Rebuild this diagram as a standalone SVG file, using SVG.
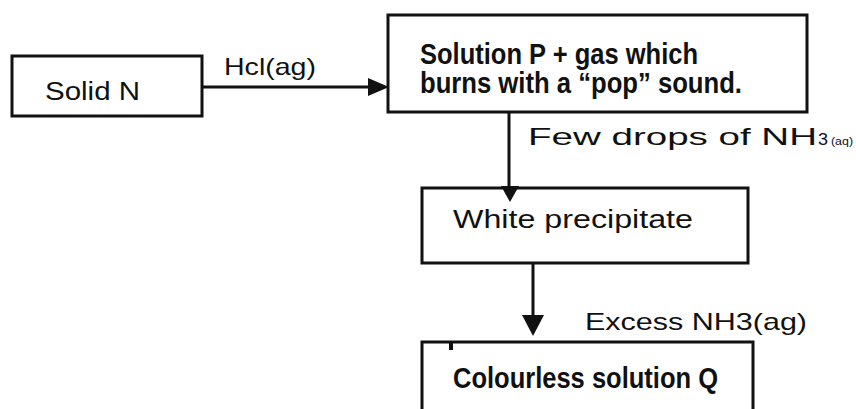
<svg xmlns="http://www.w3.org/2000/svg" width="856" height="409" viewBox="0 0 856 409">
<style>
.box{fill:#fff;stroke:#111;stroke-width:3}
.t{font-family:"Liberation Sans",Arial,sans-serif;fill:#111}
.b{font-family:"Liberation Sans Narrow","Liberation Sans",Arial,sans-serif;font-weight:bold;fill:#111}
.ln{stroke:#111;stroke-width:3;fill:none}
.ah{fill:#111}
</style>
<rect width="856" height="409" fill="#fff"/>
<g id="solidN">
<rect class="box" x="12" y="56" width="190" height="60"/>
<text class="t" x="45" y="100" font-size="25" textLength="95" lengthAdjust="spacingAndGlyphs">Solid N</text>
</g>
<g id="solutionP">
<rect class="box" x="388" y="15" width="419" height="97"/>
<text class="b" x="420" y="64" font-size="29" textLength="278" lengthAdjust="spacingAndGlyphs">Solution P + gas which</text>
<text class="b" x="420" y="93" font-size="29" textLength="322" lengthAdjust="spacingAndGlyphs">burns with a “pop” sound.</text>
</g>
<g id="whitePrecipitate">
<rect class="box" x="422" y="188" width="326" height="75"/>
<text class="t" x="453" y="228" font-size="25" textLength="240" lengthAdjust="spacingAndGlyphs">White precipitate</text>
</g>
<g id="solutionQ">
<rect class="box" x="422" y="342" width="331" height="80"/>
<rect x="449" y="342" width="4" height="8" fill="#111"/>
<text class="b" x="453" y="388" font-size="29" textLength="265" lengthAdjust="spacingAndGlyphs">Colourless solution Q</text>
</g>
<g id="connectors">
<line class="ln" x1="202" y1="87" x2="372" y2="87"/>
<path class="ah" d="M368,78 L389,87 L368,96 z"/>
<line class="ln" x1="509" y1="112" x2="509" y2="190"/>
<path class="ah" d="M501,186 L510,202 L519,186 z"/>
<line class="ln" x1="533" y1="263" x2="533" y2="320"/>
<path class="ah" d="M522,315 L533,336 L544,315 z"/>
</g>
<g id="labels">
<text class="t" x="224" y="75" font-size="24" textLength="92" lengthAdjust="spacingAndGlyphs">Hcl(ag)</text>
<text class="t" x="528" y="145" font-size="24" textLength="289" lengthAdjust="spacingAndGlyphs">Few drops of NH</text>
<text class="t" x="818" y="145" font-size="16" textLength="10" lengthAdjust="spacingAndGlyphs">3</text>
<text class="t" x="831" y="145" font-size="11" textLength="22" lengthAdjust="spacingAndGlyphs">(aq)</text>
<text class="t" x="585" y="330" font-size="24" textLength="222" lengthAdjust="spacingAndGlyphs">Excess NH3(ag)</text>
</g>
</svg>
